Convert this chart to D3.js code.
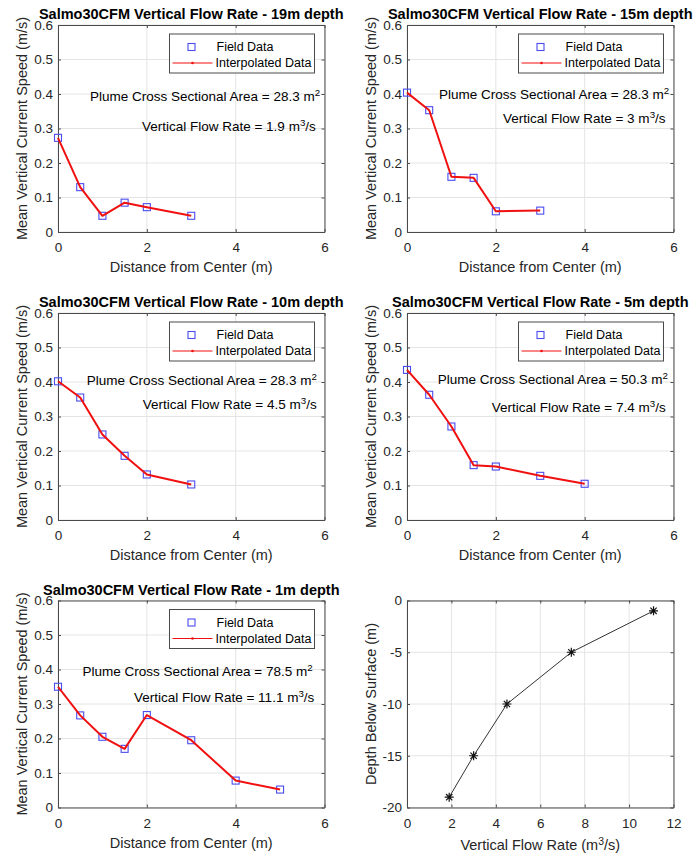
<!DOCTYPE html>
<html>
<head>
<meta charset="utf-8">
<script src="https://cdn.jsdelivr.net/npm/d3@7"></script>
<style>
  html, body { margin: 0; padding: 0; background: #ffffff; }
  svg { display: block; font-family: "Liberation Sans", Arial, Helvetica, sans-serif; }
  .tick text { fill: #262626; }
</style>
</head>
<body>
<script>
// ---- Field measurements: distance from plume center (m) and mean vertical speed (m/s)
const distance19 = [0, 0.5, 1, 1.5, 2, 3];
const speed19    = [0.273, 0.130, 0.047, 0.085, 0.072, 0.047];

const distance15 = [0, 0.5, 1, 1.5, 2, 3];
const speed15    = [0.404, 0.353, 0.160, 0.157, 0.060, 0.062];

const distance10 = [0, 0.5, 1, 1.5, 2, 3];
const speed10    = [0.402, 0.355, 0.248, 0.186, 0.132, 0.103];

const distance5  = [0, 0.5, 1, 1.5, 2, 3, 4];
const speed5     = [0.435, 0.363, 0.271, 0.159, 0.155, 0.128, 0.105];

const distance1  = [0, 0.5, 1, 1.5, 2, 3, 4, 5];
const speed1     = [0.350, 0.267, 0.205, 0.170, 0.268, 0.195, 0.078, 0.052];

// ---- Per-depth summary
const depths      = [19, 15, 10, 5, 1];
const crossArea   = [28.3, 28.3, 28.3, 50.3, 78.5];   // m^2
const flowRate    = [1.9, 3, 4.5, 7.4, 11.1];         // m^3/s
const depthBelow  = [-19, -15, -10, -5, -1];          // m

// ---- Tick values
const distanceTicks = [0, 2, 4, 6];
const speedTicks    = [0, 0.1, 0.2, 0.3, 0.4, 0.5, 0.6];
const flowTicks     = [0, 2, 4, 6, 8, 10, 12];
const depthTicks    = [-20, -15, -10, -5, 0];

// ---- Layout
const W = 696, H = 855;
const colX = [58, 407];
const rowY = [25, 313, 600.5];
const plotW = 266.5, plotH = 207;

const AXIS_COLOR = "#4a4a4a";
const GRID_COLOR = "#e4e4e4";
const FIELD_COLOR = "#4b4bf0";
const INTERP_COLOR = "#f01010";

const svg = d3.select("body").append("svg")
  .attr("width", W).attr("height", H);

// speed-profile panels: data series plus where each annotation line starts (data units)
const profiles = [
  { dist: distance19, speed: speed19, col: 0, row: 0, areaAt: [0.72, 0.394], flowAt: [1.89, 0.307] },
  { dist: distance15, speed: speed15, col: 1, row: 0, areaAt: [0.72, 0.400], flowAt: [2.16, 0.330] },
  { dist: distance10, speed: speed10, col: 0, row: 1, areaAt: [0.65, 0.404], flowAt: [1.91, 0.336] },
  { dist: distance5,  speed: speed5,  col: 1, row: 1, areaAt: [0.69, 0.409], flowAt: [1.91, 0.327] },
  { dist: distance1,  speed: speed1,  col: 0, row: 2, areaAt: [0.55, 0.396], flowAt: [1.71, 0.319] }
];

const plainFmt = d => String(d);
const speedFmt = d => d === 0 ? "0" : d3.format(".1f")(d);

function drawFrame(g, x, y, xTicks, yTicks, xFmt, yFmt) {
  const [x0, x1] = x.range();
  const [y0, y1] = y.range(); // y0 bottom, y1 top

  // grid
  g.append("g").selectAll("line").data(xTicks).join("line")
    .attr("x1", d => x(d)).attr("x2", d => x(d))
    .attr("y1", y0).attr("y2", y1)
    .attr("stroke", GRID_COLOR).attr("stroke-width", 1);
  g.append("g").selectAll("line").data(yTicks).join("line")
    .attr("x1", x0).attr("x2", x1)
    .attr("y1", d => y(d)).attr("y2", d => y(d))
    .attr("stroke", GRID_COLOR).attr("stroke-width", 1);

  const style = sel => {
    sel.selectAll(".domain").attr("stroke", AXIS_COLOR);
    sel.selectAll(".tick line").attr("stroke", AXIS_COLOR);
    sel.selectAll(".tick text").attr("font-size", 13.5)
      .attr("font-family", "'Liberation Sans', Arial, sans-serif");
  };

  g.append("g").attr("transform", `translate(0,${y0})`)
    .call(d3.axisBottom(x).tickValues(xTicks).tickFormat(xFmt).tickSizeInner(-3).tickSizeOuter(0).tickPadding(10.5))
    .call(style);
  g.append("g").attr("transform", `translate(${x0},0)`)
    .call(d3.axisLeft(y).tickValues(yTicks).tickFormat(yFmt).tickSizeInner(-3).tickSizeOuter(0).tickPadding(5))
    .call(style);
  g.append("g").attr("transform", `translate(0,${y1})`)
    .call(d3.axisTop(x).tickValues(xTicks).tickFormat("").tickSizeInner(-3).tickSizeOuter(0))
    .call(style);
  g.append("g").attr("transform", `translate(${x1},0)`)
    .call(d3.axisRight(y).tickValues(yTicks).tickFormat("").tickSizeInner(-3).tickSizeOuter(0))
    .call(style);
}

function supText(sel, parts) {
  // parts: array of [text, isSuperscript]
  parts.forEach(([t, sup]) => {
    const ts = sel.append("tspan").text(t);
    if (sup) ts.attr("font-size", "72%").attr("baseline-shift", "super");
  });
}

profiles.forEach((p, i) => {
  const left = colX[p.col], top = rowY[p.row];
  const x = d3.scaleLinear().domain([0, 6]).range([left, left + plotW]);
  const y = d3.scaleLinear().domain([0, 0.6]).range([top + plotH, top]);
  const g = svg.append("g");

  drawFrame(g, x, y, distanceTicks, speedTicks, plainFmt, speedFmt);

  const pts = p.dist.map((d, k) => [d, p.speed[k]]);

  // field data squares
  const s = 7;
  g.append("g").selectAll("rect").data(pts).join("rect")
    .attr("x", d => x(d[0]) - s / 2).attr("y", d => y(d[1]) - s / 2)
    .attr("width", s).attr("height", s)
    .attr("fill", "none").attr("stroke", FIELD_COLOR).attr("stroke-width", 1.1);

  // interpolated profile
  g.append("path").datum(pts)
    .attr("d", d3.line().x(d => x(d[0])).y(d => y(d[1])))
    .attr("fill", "none").attr("stroke", INTERP_COLOR)
    .attr("stroke-width", 2).attr("stroke-linejoin", "round");

  // title
  g.append("text")
    .attr("x", (x.range()[0] + x.range()[1]) / 2).attr("y", top - 6)
    .attr("text-anchor", "middle").attr("font-weight", "bold").attr("font-size", 14.5)
    .attr("fill", "#000")
    .text(`Salmo30CFM Vertical Flow Rate - ${depths[i]}m depth`);

  // axis labels
  g.append("text")
    .attr("x", (x.range()[0] + x.range()[1]) / 2).attr("y", top + plotH + 40)
    .attr("text-anchor", "middle").attr("font-size", 14.5).attr("fill", "#262626")
    .text("Distance from Center (m)");
  g.append("text")
    .attr("transform", `translate(${left - 31},${top + plotH / 2}) rotate(-90)`)
    .attr("text-anchor", "middle").attr("font-size", 14.5).attr("fill", "#262626")
    .text("Mean Vertical Current Speed (m/s)");

  // annotations
  const a1 = g.append("text")
    .attr("x", x(p.areaAt[0])).attr("y", y(p.areaAt[1])).attr("dy", "0.36em")
    .attr("font-size", 13.5).attr("fill", "#000");
  supText(a1, [[`Plume Cross Sectional Area = ${crossArea[i]} m`, false], ["2", true]]);
  const a2 = g.append("text")
    .attr("x", x(p.flowAt[0])).attr("y", y(p.flowAt[1])).attr("dy", "0.36em")
    .attr("font-size", 13.5).attr("fill", "#000");
  supText(a2, [[`Vertical Flow Rate = ${flowRate[i]} m`, false], ["3", true], ["/s", false]]);

  // legend
  const lw = 145, lh = 39;
  const lx = x.range()[1] - 10 - lw, ly = top + 9;
  const lg = g.append("g");
  lg.append("rect").attr("x", lx).attr("y", ly).attr("width", lw).attr("height", lh)
    .attr("fill", "#fff").attr("stroke", AXIS_COLOR).attr("stroke-width", 1);
  lg.append("rect").attr("x", lx + 22 - s / 2).attr("y", ly + 13 - s / 2)
    .attr("width", s).attr("height", s)
    .attr("fill", "none").attr("stroke", FIELD_COLOR).attr("stroke-width", 1.1);
  lg.append("line").attr("x1", lx + 3).attr("x2", lx + 43)
    .attr("y1", ly + 29).attr("y2", ly + 29)
    .attr("stroke", INTERP_COLOR).attr("stroke-width", 1);
  lg.append("circle").attr("cx", lx + 23).attr("cy", ly + 29).attr("r", 1.3)
    .attr("fill", INTERP_COLOR);
  lg.append("text").attr("x", lx + 47).attr("y", ly + 13).attr("dy", "0.35em")
    .attr("font-size", 12.5).attr("fill", "#000").text("Field Data");
  lg.append("text").attr("x", lx + 46).attr("y", ly + 29).attr("dy", "0.35em")
    .attr("font-size", 12.5).attr("fill", "#000").text("Interpolated Data");
});

// ---- Flow rate vs depth panel
{
  const left = colX[1], top = rowY[2];
  const x = d3.scaleLinear().domain([0, 12]).range([left, left + plotW]);
  const y = d3.scaleLinear().domain([-20, 0]).range([top + plotH, top]);
  const g = svg.append("g");
  drawFrame(g, x, y, flowTicks, depthTicks, plainFmt, plainFmt);

  const pts = flowRate.map((f, k) => [f, depthBelow[k]]);
  g.append("path").datum(pts)
    .attr("d", d3.line().x(d => x(d[0])).y(d => y(d[1])))
    .attr("fill", "none").attr("stroke", "#333").attr("stroke-width", 1);

  const r = 4.5;
  const star = `M${-r},0H${r}M0,${-r}V${r}M${-r * 0.7},${-r * 0.7}L${r * 0.7},${r * 0.7}M${-r * 0.7},${r * 0.7}L${r * 0.7},${-r * 0.7}`;
  g.append("g").selectAll("path").data(pts).join("path")
    .attr("transform", d => `translate(${x(d[0])},${y(d[1])})`)
    .attr("d", star).attr("fill", "none").attr("stroke", "#111").attr("stroke-width", 1.2);

  const xl = g.append("text")
    .attr("x", (x.range()[0] + x.range()[1]) / 2).attr("y", top + plotH + 42)
    .attr("text-anchor", "middle").attr("font-size", 14.5).attr("fill", "#262626");
  supText(xl, [["Vertical Flow Rate (m", false], ["3", true], ["/s)", false]]);

  g.append("text")
    .attr("transform", `translate(${left - 31},${top + plotH / 2}) rotate(-90)`)
    .attr("text-anchor", "middle").attr("font-size", 14.5).attr("fill", "#262626")
    .text("Depth Below Surface (m)");
}
</script>
</body>
</html>
